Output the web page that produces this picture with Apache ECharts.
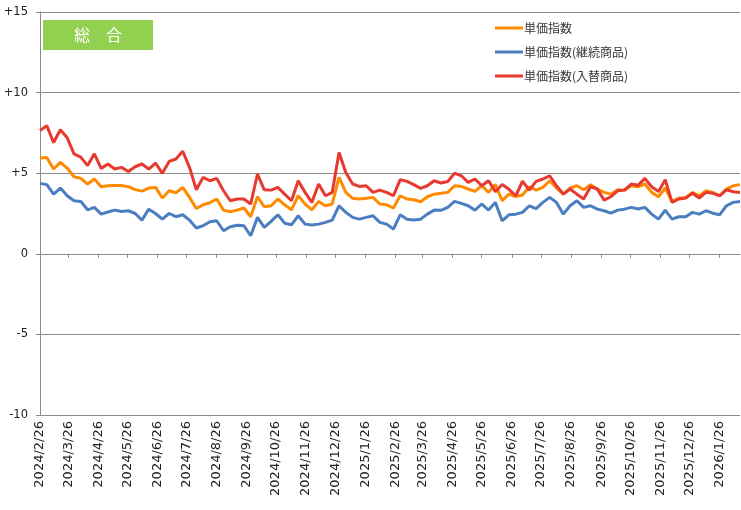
<!DOCTYPE html>
<html>
<head>
<meta charset="utf-8">
<script src="https://cdn.jsdelivr.net/npm/echarts@6/dist/echarts.min.js"></script>
<style>
html,body{margin:0;padding:0;background:#fff;}
#chart{width:741px;height:510px;}
</style>
</head>
<body>
<div id="chart"></div>
<script>
// Weekly series, first point 2024/2/26, one value per week
const firstWeek = '2024-02-26';
const axisEnd = '2026-02-16';
const seriesNames = ['単価指数', '単価指数(継続商品)', '単価指数(入替商品)'];
const yTicks = [-10, -5, 0, 5, 10, 15];

const unitPrice = [
  5.94, 5.98, 5.26, 5.67, 5.32, 4.78, 4.68, 4.33, 4.64, 4.16,
  4.22, 4.24, 4.24, 4.16, 3.98, 3.89, 4.08, 4.12, 3.46, 3.91,
  3.79, 4.12, 3.50, 2.81, 3.04, 3.17, 3.40, 2.71, 2.61, 2.71,
  2.84, 2.30, 3.54, 2.92, 2.98, 3.40, 3.04, 2.73, 3.60, 3.09,
  2.73, 3.25, 2.98, 3.09, 4.74, 3.81, 3.44, 3.40, 3.44, 3.50,
  3.09, 3.04, 2.84, 3.60, 3.40, 3.35, 3.23, 3.54, 3.70, 3.75,
  3.81, 4.22, 4.18, 4.02, 3.87, 4.22, 3.81, 4.30, 3.30, 3.70,
  3.55, 3.65, 4.16, 3.95, 4.12, 4.53, 4.08, 3.70, 4.08, 4.22,
  3.97, 4.29, 4.02, 3.81, 3.70, 3.97, 3.95, 4.22, 4.16, 4.33,
  3.81, 3.54, 4.08, 3.25, 3.46, 3.46, 3.81, 3.60, 3.91, 3.81,
  3.60, 4.02, 4.22, 4.29
];
const unitPriceCont = [
  4.37, 4.29, 3.70, 4.08, 3.60, 3.29, 3.25, 2.73, 2.88, 2.46,
  2.59, 2.71, 2.63, 2.67, 2.50, 2.09, 2.77, 2.50, 2.15, 2.50,
  2.30, 2.42, 2.09, 1.60, 1.74, 1.99, 2.05, 1.43, 1.68, 1.77,
  1.74, 1.12, 2.26, 1.64, 2.01, 2.42, 1.90, 1.80, 2.36, 1.84,
  1.78, 1.84, 1.95, 2.09, 2.98, 2.57, 2.26, 2.15, 2.26, 2.36,
  1.95, 1.84, 1.53, 2.42, 2.15, 2.09, 2.15, 2.46, 2.71, 2.70,
  2.88, 3.25, 3.13, 2.98, 2.71, 3.09, 2.71, 3.19, 2.05, 2.42,
  2.46, 2.57, 2.98, 2.80, 3.19, 3.50, 3.19, 2.46, 2.98, 3.29,
  2.88, 2.98, 2.77, 2.67, 2.52, 2.71, 2.77, 2.88, 2.78, 2.88,
  2.46, 2.15, 2.71, 2.15, 2.30, 2.30, 2.57, 2.46, 2.67, 2.52,
  2.42, 2.98, 3.19, 3.25
];
const unitPriceRepl = [
  7.64, 7.95, 6.90, 7.70, 7.20, 6.20, 6.00, 5.47, 6.20, 5.30,
  5.57, 5.26, 5.36, 5.10, 5.40, 5.57, 5.26, 5.63, 4.99, 5.73,
  5.88, 6.36, 5.36, 3.97, 4.74, 4.53, 4.68, 3.91, 3.29, 3.40,
  3.40, 3.09, 4.95, 3.97, 3.95, 4.12, 3.70, 3.29, 4.53, 3.81,
  3.19, 4.33, 3.60, 3.81, 6.29, 5.05, 4.33, 4.18, 4.22, 3.81,
  3.95, 3.81, 3.60, 4.60, 4.49, 4.29, 4.06, 4.22, 4.53, 4.39,
  4.49, 5.00, 4.84, 4.43, 4.64, 4.22, 4.53, 3.85, 4.30, 4.00,
  3.60, 4.50, 3.95, 4.49, 4.64, 4.84, 4.22, 3.70, 4.02, 3.70,
  3.40, 4.16, 4.02, 3.33, 3.54, 3.91, 3.95, 4.33, 4.25, 4.68,
  4.16, 3.87, 4.60, 3.19, 3.40, 3.46, 3.75, 3.46, 3.81, 3.75,
  3.60, 3.97, 3.85, 3.80
];

// daily category axis
function buildDays(startStr, endStr) {
  const out = [];
  const s = new Date(startStr + 'T00:00:00Z');
  const e = new Date(endStr + 'T00:00:00Z');
  for (let d = new Date(s); d <= e; d.setUTCDate(d.getUTCDate() + 1)) {
    out.push(d.getUTCFullYear() + '/' + (d.getUTCMonth() + 1) + '/' + d.getUTCDate());
  }
  return out;
}
const days = buildDays(firstWeek, axisEnd);
function toDaily(vals) {
  const arr = new Array(days.length).fill(null);
  vals.forEach((v, k) => { if (7 * k < days.length) arr[7 * k] = v; });
  return arr;
}
const isLabelDay = (idx, val) => /\/26$/.test(val);

const colors = ['#FF8A00', '#4A7EC0', '#E8392F'];
const gridGray = '#8c8c8c';
const chart = echarts.init(document.getElementById('chart'), null, {renderer: 'canvas'});
chart.setOption({
  animation: false,
  backgroundColor: '#fff',
  grid: {left: 40, right: 1, top: 12, bottom: 95, containLabel: false},
  legend: {
    data: seriesNames,
    orient: 'vertical',
    left: 487, top: 14,
    padding: [8, 12, 8, 8],
    itemGap: 12,
    itemWidth: 28, itemHeight: 3,
    icon: 'rect',
    backgroundColor: '#fff',
    textStyle: {fontFamily: '"Noto Sans CJK JP", sans-serif', fontSize: 12, color: '#333', padding: [0, 0, 0, -4]}
  },
  graphic: [{
    type: 'group', left: 43, top: 20,
    children: [
      {type: 'rect', shape: {x: 0, y: 0, width: 110, height: 30}, style: {fill: '#92D050'}},
      {type: 'text', x: 55, y: 15, style: {text: '総　合', fill: '#fff', font: '16px "Noto Sans CJK JP"', textAlign: 'center', textVerticalAlign: 'middle'}}
    ]
  }],
  xAxis: {
    type: 'category',
    boundaryGap: false,
    data: days,
    axisLine: {show: true, lineStyle: {color: gridGray, width: 1}},
    axisTick: {show: true, interval: isLabelDay, length: 4, lineStyle: {color: gridGray}},
    axisLabel: {interval: isLabelDay, rotate: 90, margin: 6, fontSize: 13, color: '#222', fontFamily: '"DejaVu Sans", sans-serif'},
    splitLine: {show: false}
  },
  yAxis: {
    type: 'value',
    min: yTicks[0], max: yTicks[yTicks.length - 1], interval: 5,
    axisLine: {show: true, lineStyle: {color: gridGray, width: 1}},
    axisTick: {show: true, length: 4, lineStyle: {color: gridGray}},
    axisLabel: {margin: 12, fontSize: 11.5, color: '#222', fontFamily: '"DejaVu Sans", sans-serif',
      formatter: v => v > 0 ? '+' + v : String(v)},
    splitLine: {show: true, lineStyle: {color: gridGray, width: 1.2}}
  },
  series: [unitPrice, unitPriceCont, unitPriceRepl].map((vals, i) => ({
    name: seriesNames[i],
    type: 'line',
    data: toDaily(vals),
    connectNulls: true,
    showSymbol: false,
    symbol: 'none',
    color: colors[i],
    lineStyle: {width: 3, color: colors[i]},
    emphasis: {disabled: true}
  }))
});
</script>
</body>
</html>
